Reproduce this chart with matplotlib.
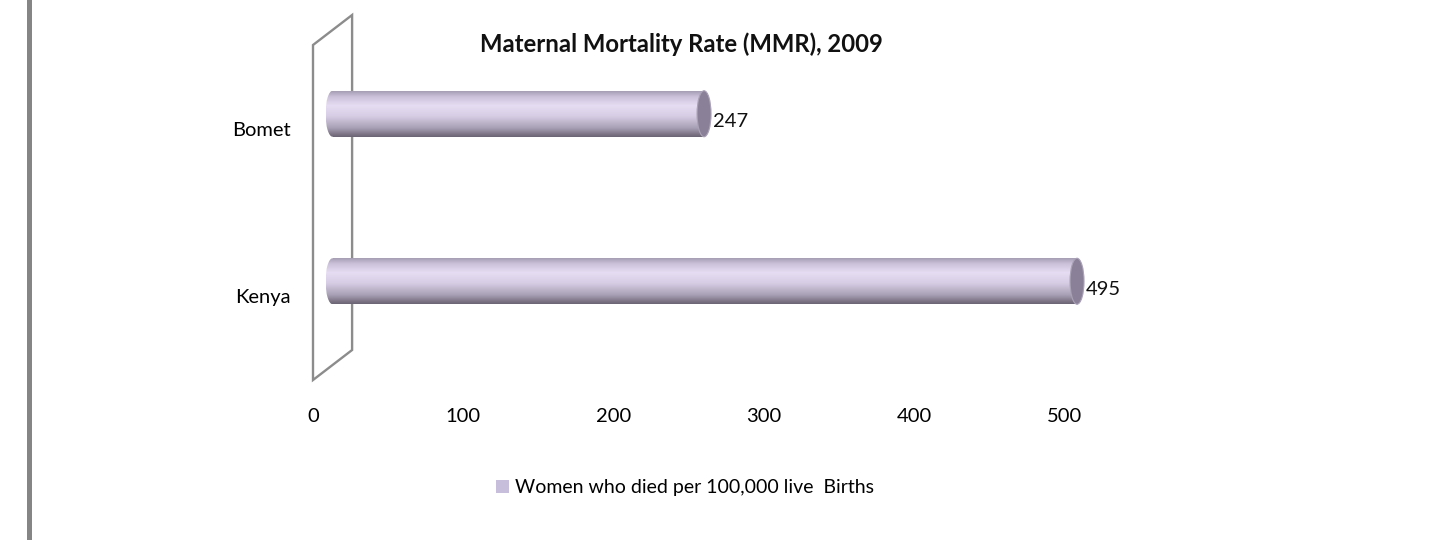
import matplotlib.pyplot as plt
import numpy as np
from matplotlib.patches import Ellipse, Polygon, Rectangle, Patch
from matplotlib.colors import LinearSegmentedColormap

plt.rcParams['font.family'] = ['Lato', 'DejaVu Sans']

regions = ['Kenya', 'Bomet']
mmr = [495, 247]
xticks = [0, 100, 200, 300, 400, 500]
title = 'Maternal Mortality Rate (MMR), 2009'
series = 'Women who died per 100,000 live  Births'

W, H = 1451, 540
fig = plt.figure(figsize=(W / 100, H / 100), dpi=100)
fig.patch.set_facecolor('white')

# axes = front plane of the 3D box
ax = fig.add_axes([313 / W, 1 - 380 / H, (1065 - 313) / W, (380 - 45) / H])
ax.set_xlim(0, 500)
ax.set_ylim(-0.5, 1.5)
for s in ax.spines.values():
    s.set_visible(False)

# depth of the 3D box (data units)
dx = 26
dy = 30 / 167.5
hb = 46 / 167.5        # cylinder thickness
ew = 9.3               # end cap width

# the wall
wall = Polygon([(0, -0.5), (0, 1.5), (dx, 1.5 + dy), (dx, -0.5 + dy)], closed=True,
               fill=False, edgecolor='#8c8c8c', lw=1.7, clip_on=False, zorder=1)
ax.add_patch(wall)

cyl = LinearSegmentedColormap.from_list('cyl', [
    (0.0, '#a59db2'), (0.12, '#cbc2da'), (0.32, '#e7ddf3'), (0.55, '#d6cce3'),
    (0.8, '#a9a1b6'), (0.93, '#807889'), (1.0, '#6a6474')])
grad = np.linspace(0, 1, 256).reshape(-1, 1)

for i, (name, v) in enumerate(zip(regions, mmr)):
    yc = i + dy / 2
    x0 = dx / 2
    x1 = v + dx / 2
    ax.imshow(grad, cmap=cyl, extent=[x0, x1, yc - hb / 2, yc + hb / 2],
              aspect='auto', origin='upper', clip_on=False, zorder=2, interpolation='bilinear')
    left = Ellipse((x0, yc), ew, hb, transform=ax.transData)
    im = ax.imshow(grad, cmap=cyl, extent=[x0 - ew / 2, x0, yc - hb / 2, yc + hb / 2],
                   aspect='auto', origin='upper', zorder=2, interpolation='bilinear')
    im.set_clip_path(left)
    ax.add_patch(Ellipse((x1, yc), ew, hb, facecolor='#8a8198', edgecolor='#aaa2b6',
                         lw=0.8, clip_on=False, zorder=3))
    ax.text(x1 + ew / 2 + 1.0, yc - 0.048, str(v), ha='left', va='center',
            fontsize=14.5, color='#111111', clip_on=False)

ax.set_xlim(0, 500)
ax.set_ylim(-0.5, 1.5)
ax.set_xticks(xticks)
ax.set_xticklabels([str(t) for t in xticks], fontsize=14.5)
ax.set_yticks(range(len(regions)))
ax.set_yticklabels(regions, fontsize=14.5)
ax.tick_params(axis='x', length=0, pad=20)
ax.tick_params(axis='y', length=0, pad=16)

fig.text(681 / W, 1 - 44 / H, title, ha='center', va='center', fontsize=17.2,
         fontweight='bold', color='#111111')

fig.legend(handles=[Patch(facecolor='#c6bedb', edgecolor='none')], labels=[series],
           loc='center', bbox_to_anchor=(685 / W, 1 - 488 / H), frameon=False,
           fontsize=14, handlelength=0.65, handleheight=0.65, handletextpad=0.3)

# grey side rule
fig.add_artist(Rectangle((27 / W, 0), 5 / W, 1, transform=fig.transFigure,
                         facecolor='#858585', edgecolor='none'))

fig.savefig('out.png', dpi=100, facecolor='white')
